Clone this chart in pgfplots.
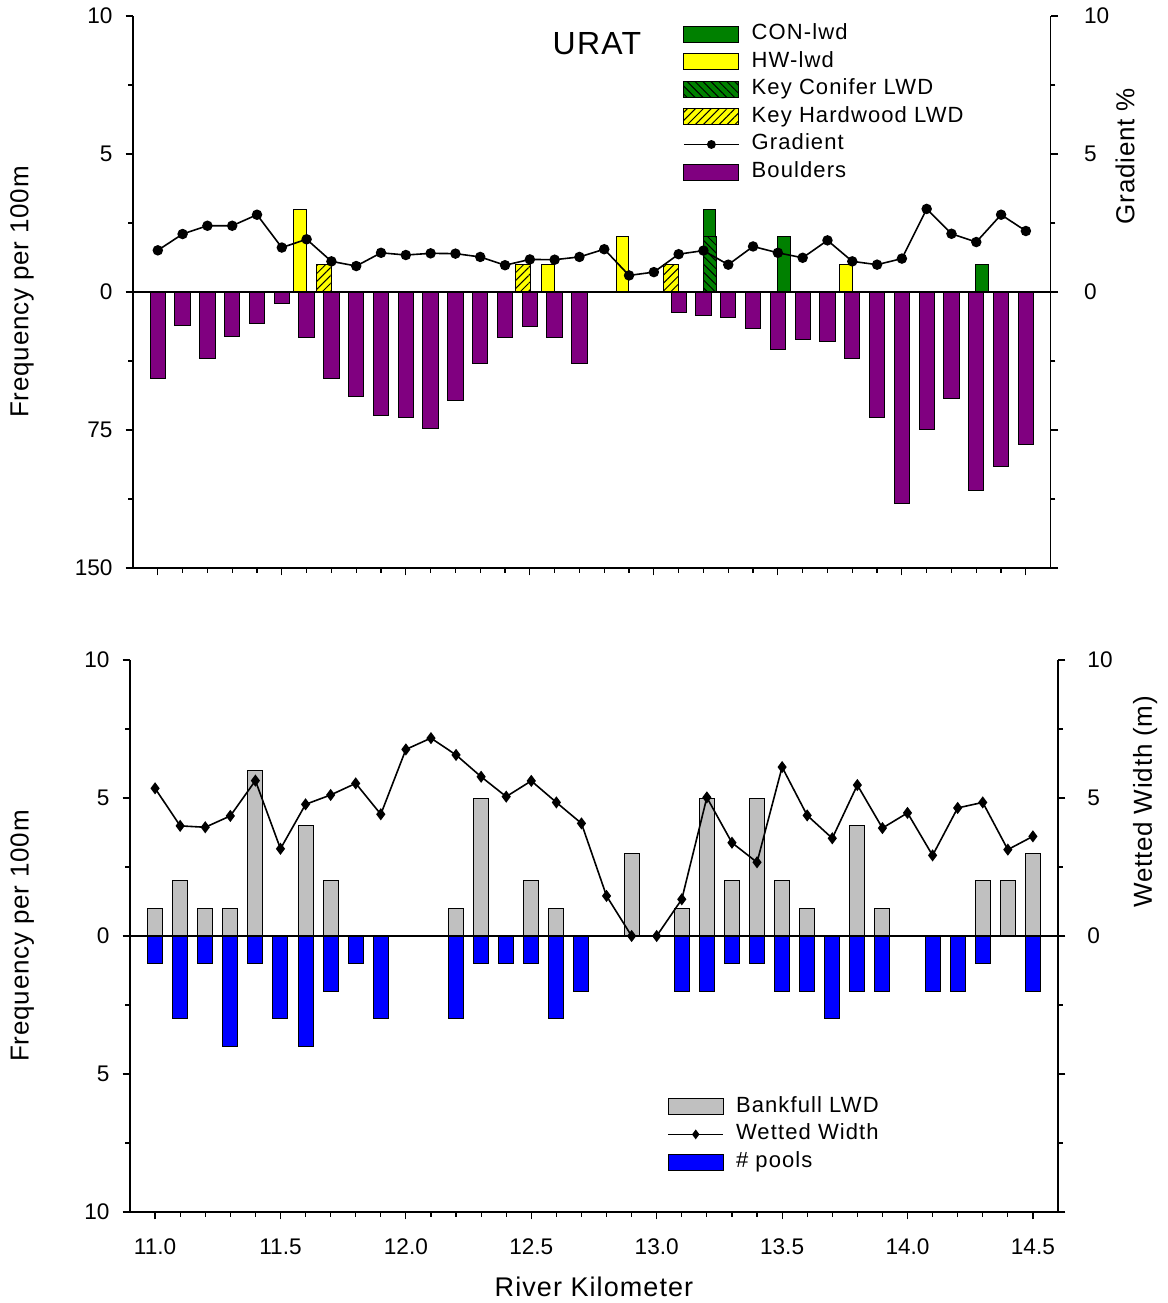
\documentclass[border=0pt]{standalone}
\usepackage{fontspec}
\setmainfont{Liberation Sans}
\usepackage{pgfplots}
\usepackage{pgfplotstable}
\pgfplotsset{compat=1.18}
\usetikzlibrary{patterns.meta}

\definecolor{congreen}{RGB}{0,128,0}
\definecolor{hwyellow}{RGB}{255,255,0}
\definecolor{bpurple}{RGB}{128,0,128}
\definecolor{bkgray}{RGB}{192,192,192}
\definecolor{pblue}{RGB}{0,0,255}

\pgfplotstableread{
km grad
11.0 1.51
11.1 2.10
11.2 2.40
11.3 2.40
11.4 2.80
11.5 1.61
11.6 1.91
11.7 1.11
11.8 0.94
11.9 1.42
12.0 1.34
12.1 1.40
12.2 1.39
12.3 1.27
12.4 0.97
12.5 1.18
12.6 1.17
12.7 1.27
12.8 1.55
12.9 0.60
13.0 0.72
13.1 1.37
13.2 1.50
13.3 0.99
13.4 1.65
13.5 1.42
13.6 1.24
13.7 1.87
13.8 1.11
13.9 0.99
14.0 1.21
14.1 3.01
14.2 2.11
14.3 1.81
14.4 2.80
14.5 2.21
}\gradtab

\pgfplotstableread{
km b
11.0 47
11.1 18
11.2 36
11.3 24
11.4 17
11.5 6
11.6 25
11.7 47
11.8 57
11.9 67
12.0 68
12.1 74
12.2 59
12.3 39
12.4 25
12.5 19
12.6 25
12.7 39
13.1 11
13.2 13
13.3 14
13.4 20
13.5 31
13.6 26
13.7 27
13.8 36
13.9 68
14.0 115
14.1 75
14.2 58
14.3 108
14.4 95
14.5 83
}\bouldtab

\pgfplotstableread{
km ww
11.0 5.35
11.1 3.99
11.2 3.94
11.3 4.35
11.4 5.63
11.5 3.16
11.6 4.77
11.7 5.11
11.8 5.53
11.9 4.41
12.0 6.76
12.1 7.17
12.2 6.56
12.3 5.77
12.4 5.05
12.5 5.62
12.6 4.84
12.7 4.08
12.8 1.45
12.9 0.00
13.0 0.00
13.1 1.33
13.2 5.02
13.3 3.38
13.4 2.67
13.5 6.12
13.6 4.37
13.7 3.54
13.8 5.47
13.9 3.91
14.0 4.46
14.1 2.92
14.2 4.64
14.3 4.84
14.4 3.13
14.5 3.61
}\wwtab

\pgfplotstableread{
km bank
11.0 1
11.1 2
11.2 1
11.3 1
11.4 6
11.6 4
11.7 2
12.2 1
12.3 5
12.5 2
12.6 1
12.9 3
13.1 1
13.2 5
13.3 2
13.4 5
13.5 2
13.6 1
13.8 4
13.9 1
14.3 2
14.4 2
14.5 3
}\banktab

\pgfplotstableread{
km pools
11.0 1
11.1 3
11.2 1
11.3 4
11.4 1
11.5 3
11.6 4
11.7 2
11.8 1
11.9 3
12.2 3
12.3 1
12.4 1
12.5 1
12.6 3
12.7 2
13.1 2
13.2 2
13.3 1
13.4 1
13.5 2
13.6 2
13.7 3
13.8 2
13.9 2
14.1 2
14.2 2
14.3 1
14.5 2
}\pooltab

\pgfplotsset{
  base/.style={
    scale only axis, anchor=south west,
    xmin=10.9, xmax=14.6, ymin=-10, ymax=10,
    tick align=outside, major tick length=3.7pt, minor tick length=2.3pt,
    every tick/.style={black, line width=0.6pt},
    axis line style={black, line width=0.7pt},
    tick label style={font=\fontsize{11.3}{13}\selectfont},
    /pgf/number format/assume math mode=true,
    xtick={11,11.5,...,14.5}, minor x tick num=4,
    ytick={-10,-5,0,5,10}, minor ytick={-7.5,-2.5,2.5,7.5},
    xticklabel style={yshift=-6pt, /pgf/number format/.cd, fixed, fixed zerofill, precision=1},
    label style={font=\fontsize{13}{15}\selectfont\addfontfeature{LetterSpace=3}},
  },
  legimg/.style={legend image code/.code={\draw[##1] (0pt,-4pt) rectangle (27.5pt,4pt);}},
  leglin/.style={legend image code/.code={\draw[mark repeat=2,mark phase=2,##1] plot coordinates {(0pt,0pt) (13.75pt,0pt) (27.5pt,0pt)};}},
  legsty/.style={legend cell align=left,
    legend style={draw=none, fill=none, inner sep=0pt, row sep=2.2pt,
      font=\fontsize{11}{12}\selectfont\addfontfeature{LetterSpace=5},
      nodes={inner sep=1pt, text height=7.5pt, text depth=2.1pt},
      /tikz/every odd column/.append style={column sep=5pt}}},
}

\begin{document}
\begin{tikzpicture}
\path[use as bounding box] (0,0) rectangle (584pt,651.5pt);

% ---------------- top panel ----------------
% boulders (reversed scale, 0 to 150 downward)
\begin{axis}[base, at={(66.5pt,367.5pt)}, width=458.85pt, height=276pt,
  hide axis, ymin=-150, ymax=150, y dir=reverse]
\addplot[ybar, bar width=7.65pt, bar shift=0pt, fill=bpurple, draw=black, line width=0.5pt]
  table[x=km, y=b] {\bouldtab};
\end{axis}

% LWD bars and left axis
\begin{axis}[base, at={(66.5pt,367.5pt)}, width=458.85pt, height=276pt,
  axis x line*=bottom, axis y line*=left,
  xticklabels={},
  yticklabels={150,75,0,5,10},
  yticklabel style={xshift=-3pt},
  ylabel={Frequency per 100m},
  ylabel style={at={(axis description cs:-0.121,0.5)}, anchor=center},
  legsty,
  legend style={at={(axis description cs:0.599,0.989)}, anchor=north west},
]
\addplot[ybar, bar width=6.35pt, bar shift=3pt, fill=congreen, draw=black, line width=0.5pt, legimg]
  coordinates {(13.2,3) (13.5,2) (14.3,1)};
\addlegendentry{CON-lwd}
\addplot[ybar, bar width=6.3pt, bar shift=-3.25pt, fill=hwyellow, draw=black, line width=0.5pt, legimg]
  coordinates {(11.6,3) (12.6,1) (12.9,2) (13.8,1)};
\addlegendentry{HW-lwd}
\addplot[ybar, bar width=6.65pt, bar shift=3.15pt, fill=congreen, draw=black, line width=0.5pt,
  postaction={pattern={Lines[angle=-45,distance=2.8pt,line width=0.5pt]}}, legimg]
  coordinates {(13.2,2)};
\addlegendentry{Key Conifer LWD}
\addplot[ybar, bar width=7.5pt, bar shift=-3.65pt, fill=hwyellow, draw=black, line width=0.5pt,
  postaction={pattern={Lines[angle=45,distance=2.8pt,line width=0.5pt]}}, legimg]
  coordinates {(11.7,1) (12.5,1) (13.1,1)};
\addlegendentry{Key Hardwood LWD}
\addlegendimage{leglin, black, line width=0.8pt, mark=*, mark size=1.8pt}
\addlegendentry{Gradient}
\addlegendimage{legimg, fill=bpurple, draw=black, line width=0.5pt}
\addlegendentry{Boulders}
\node[font=\fontsize{16}{18}\selectfont\addfontfeature{LetterSpace=4}] at (rel axis cs:0.5056,0.949) {URAT};
\end{axis}

% gradient, right axis
\begin{axis}[base, at={(66.5pt,367.5pt)}, width=458.85pt, height=276pt,
  hide x axis, axis y line*=right,
  yticklabels={,,0,5,10},
  yticklabel style={xshift=9.5pt},
  ylabel={Gradient \%},
  ylabel style={at={(axis description cs:1.081,0.746)}, anchor=center},
]
\draw[black, line width=1pt] (rel axis cs:0,0.5) -- (rel axis cs:1,0.5);
\addplot[black, line width=0.8pt, mark=*, mark size=2.2pt] table[x=km, y=grad] {\gradtab};
\end{axis}

% ---------------- bottom panel ----------------
\begin{axis}[base, at={(65pt,45.5pt)}, width=464pt, height=276pt,
  axis x line*=bottom, axis y line*=left,
  yticklabels={10,5,0,5,10},
  yticklabel style={xshift=-3pt},
  ylabel={Frequency per 100m},
  ylabel style={at={(axis description cs:-0.116,0.5)}, anchor=center},
  xlabel={River Kilometer},
  xlabel style={at={(axis description cs:0.5,-0.136)}, anchor=center, font=\fontsize{13.5}{15}\selectfont\addfontfeature{LetterSpace=4}},
  legsty,
  legend style={at={(axis description cs:0.5787,0.2123)}, anchor=north west},
]
\addplot[ybar, bar width=7.5pt, bar shift=0pt, fill=bkgray, draw=black, line width=0.5pt, legimg]
  table[x=km, y=bank] {\banktab};
\addlegendentry{Bankfull LWD}
\addlegendimage{leglin, black, line width=0.8pt, mark=diamond*, mark size=1.8pt}
\addlegendentry{Wetted Width}
\addplot[ybar, bar width=7.5pt, bar shift=0pt, fill=pblue, draw=black, line width=0.5pt, legimg]
  table[x=km, y expr=-\thisrow{pools}] {\pooltab};
\addlegendentry{\# pools}
\end{axis}

\begin{axis}[base, at={(65pt,45.5pt)}, width=464pt, height=276pt,
  hide x axis, axis y line*=right,
  yticklabels={,,0,5,10},
  yticklabel style={xshift=7.5pt},
  ylabel={Wetted Width (m)},
  ylabel style={at={(axis description cs:1.094,0.743)}, anchor=center},
]
\draw[black, line width=1pt] (rel axis cs:0,0.5) -- (rel axis cs:1,0.5);
\addplot[black, line width=0.8pt, mark=diamond*, mark size=2.4pt] table[x=km, y=ww] {\wwtab};
\end{axis}
\end{tikzpicture}
\end{document}
